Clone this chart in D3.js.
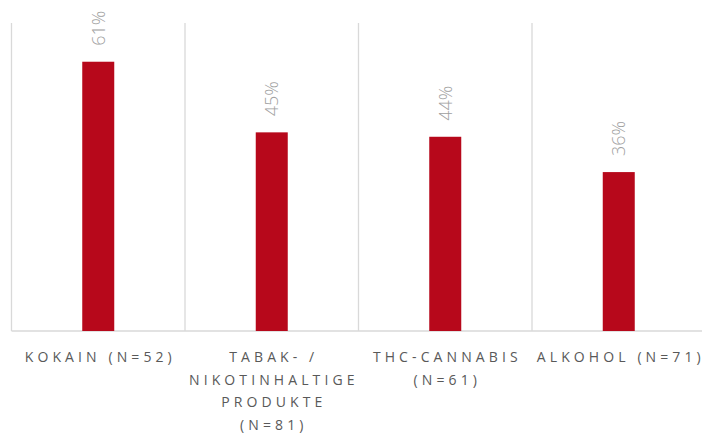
<!DOCTYPE html>
<html>
<head>
<meta charset="utf-8">
<script src="https://cdn.jsdelivr.net/npm/d3@7"></script>
<style>
  body { margin: 0; background: #fff; }
  svg { display: block; }
  .cat text { font-family: "Open Sans", sans-serif; font-size: 14px; fill: #595959; letter-spacing: 4.1px; }
  .val { font-family: "Open Sans", sans-serif; font-size: 18px; font-weight: 300; fill: #a0a0a0; }
</style>
</head>
<body>
<svg id="chart" width="702" height="434"></svg>
<script>
/* global d3 */

const categories = ['Kokain', 'Tabak', 'THC', 'Alkohol'];
const values = [0.61, 0.45, 0.44, 0.36];
const tickLines = [
    ['KOKAIN (N=52)'],
    ['TABAK- /', 'NIKOTINHALTIGE', 'PRODUKTE', '(N=81)'],
    ['THC-CANNABIS', '(N=61)'],
    ['ALKOHOL (N=71)']
];

const svg = d3.select('#chart');
const x0 = 11.5, x1 = 705.5, yBase = 331, yTop = 22;

const x = d3.scaleBand().domain(categories).range([x0, x1]).paddingInner(0).paddingOuter(0);
const y = d3.scaleLinear().domain([0, 0.7]).range([yBase, yTop]);
const barW = 32;
const mid = d => x(d) + x.bandwidth() / 2;

// vertical separators
const bounds = categories.map(c => x(c)).concat([x1]);
svg.append('g').selectAll('line').data(bounds).join('line')
    .attr('x1', d => d).attr('x2', d => d)
    .attr('y1', y(0.7) + 1).attr('y2', yBase)
    .attr('stroke', '#d9d9d9').attr('stroke-width', 1.3);

// baseline
svg.append('line')
    .attr('x1', x0).attr('x2', x1)
    .attr('y1', yBase).attr('y2', yBase)
    .attr('stroke', '#d9d9d9').attr('stroke-width', 1.3);

// bars
svg.append('g').selectAll('rect').data(categories).join('rect')
    .attr('x', d => mid(d) - barW / 2)
    .attr('width', barW)
    .attr('y', (d, i) => y(values[i]))
    .attr('height', (d, i) => yBase - y(values[i]))
    .attr('fill', '#b7081b');

// value labels (rotated)
svg.append('g').selectAll('text').data(categories).join('text')
    .attr('class', 'val')
    .attr('transform', (d, i) => `translate(${mid(d) + 6.5},${y(values[i]) - 16}) rotate(-90)`)
    .attr('text-anchor', 'start')
    .text((d, i) => d3.format('.0%')(values[i]));

// category labels, one text per line so the trailing letter-space does not count
const catG = svg.append('g').attr('class', 'cat');
categories.forEach((d, i) => {
    tickLines[i].forEach((line, j) => {
        const t = catG.append('text')
            .attr('x', mid(d))
            .attr('y', 362 + j * 22.7)
            .attr('text-anchor', 'middle');
        t.append('tspan').text(line.slice(0, -1));
        t.append('tspan').style('letter-spacing', '0px').text(line.slice(-1));
    });
});
</script>
</body>
</html>
